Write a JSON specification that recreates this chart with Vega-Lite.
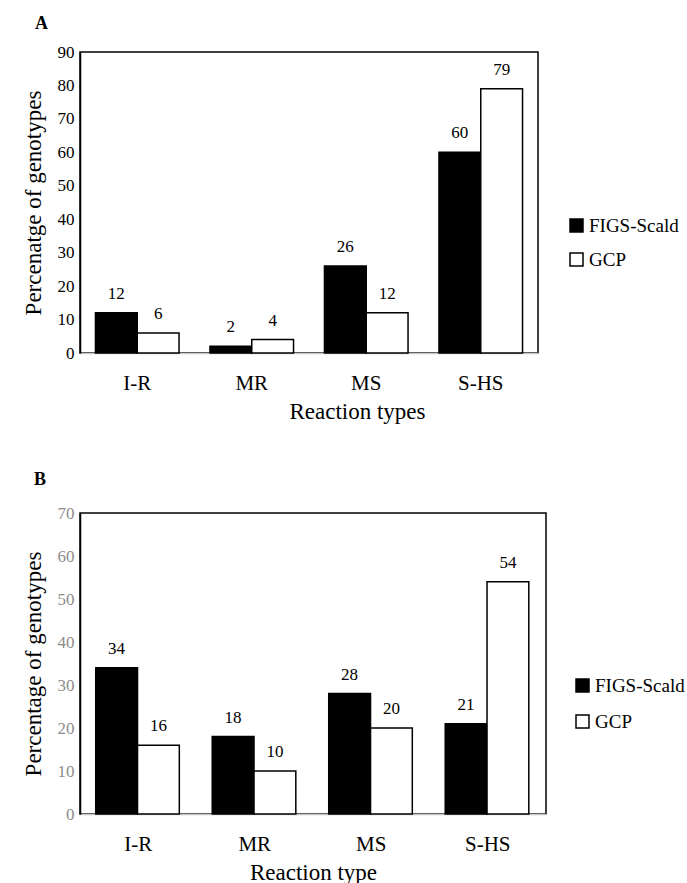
{
  "$schema": "https://vega.github.io/schema/vega-lite/v6.json",
  "background": "white",
  "padding": {"top": 14, "left": 21, "right": 5, "bottom": 0},
  "spacing": 46,
  "config": {
    "font": "Liberation Serif",
    "view": {"stroke": "black", "strokeWidth": 1.5},
    "axis": {"grid": false, "ticks": false, "tickSize": 0, "titleFontWeight": "normal", "titleFont": "Liberation Serif", "labelFont": "Liberation Serif"},
    "title": {"font": "Liberation Serif", "fontWeight": "bold", "fontSize": 18, "anchor": "start", "frame": "group"}
  },
  "datasets": {
    "a": [
      {"type": "I-R", "group": "FIGS-Scald", "value": 12},
      {"type": "I-R", "group": "GCP", "value": 6},
      {"type": "MR", "group": "FIGS-Scald", "value": 2},
      {"type": "MR", "group": "GCP", "value": 4},
      {"type": "MS", "group": "FIGS-Scald", "value": 26},
      {"type": "MS", "group": "GCP", "value": 12},
      {"type": "S-HS", "group": "FIGS-Scald", "value": 60},
      {"type": "S-HS", "group": "GCP", "value": 79}
    ],
    "b": [
      {"type": "I-R", "group": "FIGS-Scald", "value": 34},
      {"type": "I-R", "group": "GCP", "value": 16},
      {"type": "MR", "group": "FIGS-Scald", "value": 18},
      {"type": "MR", "group": "GCP", "value": 10},
      {"type": "MS", "group": "FIGS-Scald", "value": 28},
      {"type": "MS", "group": "GCP", "value": 20},
      {"type": "S-HS", "group": "FIGS-Scald", "value": 21},
      {"type": "S-HS", "group": "GCP", "value": 54}
    ]
  },
  "resolve": {"scale": {"y": "independent", "x": "independent", "color": "independent"}, "legend": {"color": "independent"}},
  "vconcat": [
    {
      "title": {"text": "A", "dx": -45, "offset": 10},
      "width": 458,
      "height": 301,
      "data": {"name": "a"},
      "encoding": {
        "x": {"field": "type", "type": "nominal", "sort": ["I-R", "MR", "MS", "S-HS"],
          "scale": {"paddingInner": 0.27, "paddingOuter": 0.135},
          "axis": {"title": "Reaction types", "labelAngle": 0, "labelFontSize": 21, "labelPadding": 19, "labelColor": "black",
            "domainColor": "#c8c8c8", "domainWidth": 1.5, "titleFontSize": 23, "titleColor": "black", "titleX": 277, "titleY": 47, "titleBaseline": "top"}},
        "xOffset": {"field": "group", "type": "nominal", "sort": ["FIGS-Scald", "GCP"]},
        "y": {"field": "value", "type": "quantitative",
          "scale": {"domain": [0, 90], "nice": false},
          "axis": {"title": "Percenatge of genotypes", "values": [0, 10, 20, 30, 40, 50, 60, 70, 80, 90], "labelFontSize": 17, "labelColor": "black", "labelPadding": 6,
            "domainColor": "black", "domainWidth": 1.5, "titleFontSize": 23, "titleColor": "black", "titlePadding": 12}}
      },
      "layer": [
        {
          "mark": {"type": "bar", "stroke": "black", "strokeWidth": 1.5},
          "encoding": {
            "color": {"field": "group", "type": "nominal",
              "scale": {"domain": ["FIGS-Scald", "GCP"], "range": ["black", "white"]},
              "legend": {"title": null, "orient": "none", "legendX": 487, "legendY": 164, "padding": 0, "symbolType": "square", "symbolSize": 169,
                "symbolStrokeColor": "black", "symbolStrokeWidth": 1.5, "labelFontSize": 19, "labelColor": "black", "labelOffset": 3, "rowPadding": 14, "labelFont": "Liberation Serif"}}
          }
        },
        {
          "mark": {"type": "text", "fontSize": 17, "baseline": "middle", "dy": -19, "color": "black"},
          "encoding": {"text": {"field": "value", "type": "quantitative"}}
        }
      ]
    },
    {
      "title": {"text": "B", "dx": -46, "offset": 15},
      "width": 466,
      "height": 301,
      "data": {"name": "b"},
      "encoding": {
        "x": {"field": "type", "type": "nominal", "sort": ["I-R", "MR", "MS", "S-HS"],
          "scale": {"paddingInner": 0.27, "paddingOuter": 0.135},
          "axis": {"title": "Reaction type", "labelAngle": 0, "labelFontSize": 21, "labelPadding": 19, "labelColor": "black",
            "domainColor": "#c8c8c8", "domainWidth": 1.5, "titleFontSize": 23, "titleColor": "black", "titleY": 47, "titleBaseline": "top"}},
        "xOffset": {"field": "group", "type": "nominal", "sort": ["FIGS-Scald", "GCP"]},
        "y": {"field": "value", "type": "quantitative",
          "scale": {"domain": [0, 70], "nice": false},
          "axis": {"title": "Percentage of genotypes", "values": [0, 10, 20, 30, 40, 50, 60, 70], "labelFontSize": 17, "labelColor": "#8c8c8c", "labelPadding": 6,
            "domainColor": "black", "domainWidth": 1.5, "titleFontSize": 23, "titleColor": "black", "titlePadding": 12}}
      },
      "layer": [
        {
          "mark": {"type": "bar", "stroke": "black", "strokeWidth": 1.5},
          "encoding": {
            "color": {"field": "group", "type": "nominal",
              "scale": {"domain": ["FIGS-Scald", "GCP"], "range": ["black", "white"]},
              "legend": {"title": null, "orient": "none", "legendX": 493, "legendY": 163, "padding": 0, "symbolType": "square", "symbolSize": 169,
                "symbolStrokeColor": "black", "symbolStrokeWidth": 1.5, "labelFontSize": 19, "labelColor": "black", "labelOffset": 3, "rowPadding": 16, "labelFont": "Liberation Serif"}}
          }
        },
        {
          "mark": {"type": "text", "fontSize": 17, "baseline": "middle", "dy": -19, "color": "black"},
          "encoding": {"text": {"field": "value", "type": "quantitative"}}
        }
      ]
    }
  ]
}
